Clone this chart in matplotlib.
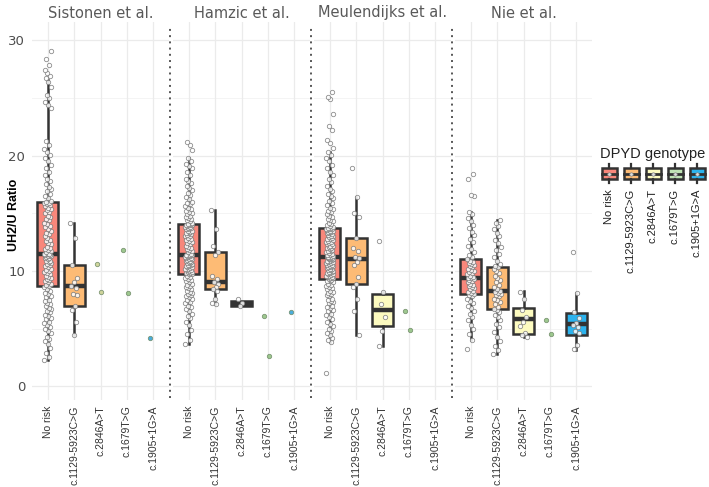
import numpy as np
import matplotlib.pyplot as plt
from matplotlib.patches import Rectangle

studies = ["Sistonen et al.", "Hamzic et al.", "Meulendijks et al.", "Nie et al."]
genotypes = ["No risk", "c.1129-5923C>G", "c.2846A>T", "c.1679T>G", "c.1905+1G>A"]
box_colors = ["#F8877B", "#FDBB75", "#FDFBC0", "#BFE3B4", "#2CB3EE"]
dot_colors = ["#FFFFFF", "#FFFFFF", "#C9CF8C", "#8DBF7C", "#2A9FD6"]

# box statistics (None = no box drawn)
q1 = [[8.7, 6.95, None, None, None],
      [9.7, 8.4, 6.96, None, None],
      [9.3, 8.87, 5.26, None, None],
      [8.0, 6.68, 4.51, None, 4.48]]
med = [[11.5, 8.73, None, None, None],
       [11.35, 9.0, 7.17, None, None],
       [11.24, 11.0, 6.6, None, None],
       [9.4, 8.24, 5.81, None, 5.38]]
q3 = [[16.0, 10.5, None, None, None],
      [14.1, 11.6, 7.37, None, None],
      [13.7, 12.86, 8.0, None, None],
      [11.0, 10.35, 6.74, None, 6.39]]
whislo = [[2.3, 4.4, None, None, None],
          [3.7, 7.1, 6.96, None, None],
          [3.8, 4.4, 3.5, None, None],
          [4.0, 2.75, 4.3, None, 3.12]]
whishi = [[26.6, 14.2, None, None, None],
          [19.8, 15.3, 7.37, None, None],
          [20.3, 16.4, 8.2, None, None],
          [15.1, 14.45, 8.27, None, 8.1]]

# individual ratios (estimated from the jittered points)
sis_norisk = [2.3, 2.5, 2.9, 3.3, 3.7, 3.9, 4.1, 4.3, 4.6, 4.8, 5.0, 5.1, 5.3, 5.5,
              5.6, 5.8, 5.9, 6.1, 6.2, 6.4, 6.5, 6.7, 6.8, 7.0, 7.1, 7.2, 7.4, 7.5,
              7.7, 7.8, 8.0, 8.1, 8.3, 8.4, 8.6,
              8.7, 8.8, 8.9, 9.0, 9.1, 9.2, 9.3, 9.4, 9.5, 9.6, 9.7, 9.8, 9.9, 10.0,
              10.1, 10.2, 10.3, 10.4, 10.5, 10.6, 10.7, 10.8, 10.9, 10.9, 11.0, 11.1,
              11.1, 11.2, 11.3, 11.3, 11.4, 11.4, 11.5, 11.5, 11.5,
              11.6, 11.7, 11.8, 11.9, 12.0, 12.1, 12.3, 12.4, 12.6, 12.7, 12.9, 13.0,
              13.2, 13.3, 13.5, 13.6, 13.8, 13.9, 14.1, 14.2, 14.4, 14.5, 14.7, 14.8,
              15.0, 15.1, 15.3, 15.4, 15.5, 15.6, 15.7, 15.8, 15.9, 15.9, 16.0,
              16.1, 16.3, 16.5, 16.7, 16.9, 17.1, 17.3, 17.5, 17.8, 18.0, 18.3, 18.6,
              18.9, 19.2, 19.5, 19.8, 20.1, 20.3, 20.6, 20.9, 21.3, 24.1, 24.4, 24.7,
              25.0, 25.3, 26.0, 26.4, 26.7, 26.9, 27.2, 27.4, 27.9, 28.4, 29.1]
sis_c1129 = [14.2, 12.9, 10.5, 9.4, 9.0, 8.7, 8.5, 8.0, 7.9, 7.0, 6.6, 5.6, 4.4]
sis_c2846 = [10.6, 8.2]
sis_c1679 = [11.8, 8.1]
sis_c1905 = [4.2]

ham_norisk = [3.7, 4.0, 4.5, 4.9, 5.3, 5.6, 5.9, 6.1, 6.3, 6.5, 6.7, 6.9, 7.0, 7.2,
              7.3, 7.5, 7.6, 7.7, 7.8, 7.9, 8.0, 8.1, 8.2, 8.3, 8.4, 8.5, 8.6, 8.7,
              8.8, 8.9, 9.0, 9.1, 9.2, 9.3, 9.4, 9.5, 9.6,
              9.7, 9.75, 9.8, 9.85, 9.9, 9.95, 10.0, 10.05, 10.1, 10.15, 10.2, 10.25,
              10.3, 10.35, 10.4, 10.45, 10.5, 10.55, 10.6, 10.65, 10.7, 10.75, 10.8,
              10.85, 10.9, 10.95, 11.0, 11.05, 11.1, 11.15, 11.2, 11.25, 11.3, 11.3,
              11.35, 11.35,
              11.4, 11.5, 11.6, 11.7, 11.8, 11.9, 12.0, 12.1, 12.2, 12.3, 12.4, 12.5,
              12.6, 12.7, 12.8, 12.9, 13.0, 13.05, 13.1, 13.2, 13.25, 13.3, 13.4,
              13.45, 13.5, 13.6, 13.65, 13.7, 13.75, 13.8, 13.85, 13.9, 13.95, 14.0,
              14.0, 14.05, 14.1,
              14.2, 14.3, 14.4, 14.5, 14.6, 14.7, 14.8, 14.9, 15.0, 15.1, 15.2, 15.4,
              15.5, 15.6, 15.8, 15.9, 16.0, 16.2, 16.4, 16.6, 16.8, 17.0, 17.2, 17.4,
              17.6, 17.8, 18.0, 18.3, 18.6, 18.9, 19.1, 19.3, 19.5, 19.8, 20.5, 20.9,
              21.2]
ham_c1129 = [15.3, 13.6, 12.2, 11.6, 11.4, 9.6, 9.3, 9.0, 8.9, 8.6, 8.4, 8.3, 7.6,
             7.2, 7.1]
ham_c2846 = [7.6, 7.2, 7.0]
ham_c1679 = [6.1, 2.6]
ham_c1905 = [6.4]

meu_norisk = [1.1, 3.8, 4.0, 4.2, 4.4, 4.6, 4.8, 5.0, 5.2, 5.4, 5.6, 5.8, 6.0, 6.2,
              6.3, 6.5, 6.6, 6.8, 6.9, 7.0, 7.2, 7.3, 7.4, 7.5, 7.6, 7.8, 7.9, 8.0,
              8.1, 8.2, 8.3, 8.4, 8.5, 8.6, 8.7, 8.8, 8.9, 9.0, 9.1, 9.1, 9.2, 9.3,
              9.35, 9.4, 9.45, 9.5, 9.55, 9.6, 9.65, 9.7, 9.75, 9.8, 9.85, 9.9, 9.95,
              10.0, 10.05, 10.1, 10.15, 10.2, 10.25, 10.3, 10.35, 10.4, 10.45, 10.5,
              10.55, 10.6, 10.65, 10.7, 10.75, 10.8, 10.85, 10.9, 10.95, 11.0, 11.0,
              11.05, 11.1, 11.1, 11.15, 11.2, 11.2, 11.24,
              11.3, 11.35, 11.4, 11.5, 11.55, 11.6, 11.7, 11.75, 11.8, 11.9, 11.95,
              12.0, 12.1, 12.15, 12.2, 12.3, 12.35, 12.4, 12.5, 12.55, 12.6, 12.7,
              12.75, 12.8, 12.9, 12.95, 13.0, 13.05, 13.1, 13.2, 13.25, 13.3, 13.35,
              13.4, 13.45, 13.5, 13.55, 13.6, 13.6, 13.65, 13.7, 13.7,
              13.8, 13.9, 14.0, 14.1, 14.2, 14.3, 14.4, 14.5, 14.7, 14.8, 14.9, 15.1,
              15.2, 15.4, 15.5, 15.7, 15.9, 16.1, 16.3, 16.5, 16.7, 16.9, 17.1, 17.4,
              17.7, 18.0, 18.3, 18.6, 18.9, 19.2, 19.5, 19.8, 20.1, 20.3, 20.7, 21.1,
              21.4, 22.2, 22.6, 23.6, 24.9, 25.1, 25.5]
meu_c1129 = [18.9, 16.4, 15.0, 14.7, 12.9, 12.0, 11.7, 11.2, 11.1, 10.8, 10.5, 9.5,
             8.9, 8.6, 7.6, 6.5, 4.4]
meu_c2846 = [12.6, 8.2, 7.1, 6.0, 4.8, 3.5]
meu_c1679 = [6.5, 4.9]
meu_c1905 = []

nie_norisk = [3.2, 4.0, 4.5, 5.0, 5.3, 5.7, 6.0, 6.3, 6.5, 6.8, 7.0, 7.2, 7.4, 7.6,
              7.8, 7.9, 8.0, 8.1, 8.2, 8.3, 8.4, 8.5, 8.6, 8.7, 8.8, 8.9, 9.0, 9.1,
              9.2, 9.3, 9.4, 9.4, 9.5, 9.6, 9.7, 9.8, 9.9, 10.0, 10.1, 10.2, 10.3,
              10.4, 10.5, 10.6, 10.7, 10.8, 10.9, 11.0, 11.2, 11.4, 11.6, 11.9, 12.2,
              12.5, 12.8, 13.1, 13.4, 13.7, 14.0, 14.3, 14.6, 14.9, 15.1, 16.5, 16.6,
              18.0, 18.4]
nie_c1129 = [2.75, 3.1, 3.5, 3.9, 4.3, 4.7, 5.1, 5.4, 5.7, 6.0, 6.2, 6.4, 6.6, 6.7,
             6.9, 7.1, 7.3, 7.5, 7.6, 7.8, 7.9, 8.0, 8.1, 8.2, 8.3, 8.4, 8.6, 8.8,
             9.0, 9.2, 9.4, 9.6, 9.8, 10.0, 10.2, 10.3, 10.4, 10.6, 10.9, 11.2, 11.5,
             11.8, 12.1, 12.4, 12.7, 13.0, 13.3, 13.6, 13.9, 14.2, 14.45]
nie_c2846 = [8.2, 7.6, 6.6, 6.0, 5.6, 5.2, 4.6, 4.4, 4.3]
nie_c1679 = [5.7, 4.5]
nie_c1905 = [11.6, 8.1, 6.4, 5.9, 5.5, 5.3, 5.1, 4.8, 4.6, 3.6, 3.2]

points = [[sis_norisk, sis_c1129, sis_c2846, sis_c1679, sis_c1905],
          [ham_norisk, ham_c1129, ham_c2846, ham_c1679, ham_c1905],
          [meu_norisk, meu_c1129, meu_c2846, meu_c1679, meu_c1905],
          [nie_norisk, nie_c1129, nie_c2846, nie_c1679, nie_c1905]]

W, H = 709, 487
plt.rcParams['font.family'] = ['DejaVu Sans']
fig = plt.figure(figsize=(W / 100, H / 100), dpi=100)

ax_bottom = (H - 400) / H
ax_height = (400 - 22) / H
lefts = [32, 173, 314, 455]
pw = 137
positions = np.arange(1, 6)

for s, study in enumerate(studies):
    ax = fig.add_axes([lefts[s] / W, ax_bottom, pw / W, ax_height])
    ax.set_xlim(0.4, 5.6)
    ax.set_ylim(-1.2, 31.6)
    ax.set_facecolor('white')
    for sp in ax.spines.values():
        sp.set_visible(False)
    # grid
    for y in [0, 10, 20, 30]:
        ax.axhline(y, color='#EBEBEB', lw=0.9, zorder=0)
    for y in [5, 15, 25]:
        ax.axhline(y, color='#F4F4F4', lw=0.7, zorder=0)
    for x in positions:
        ax.axvline(x, color='#EBEBEB', lw=0.9, zorder=0)

    # boxes
    stats, pos, cols = [], [], []
    for g in range(5):
        if q1[s][g] is None:
            continue
        stats.append(dict(med=med[s][g], q1=q1[s][g], q3=q3[s][g],
                          whislo=whislo[s][g], whishi=whishi[s][g], fliers=[]))
        pos.append(positions[g])
        cols.append(box_colors[g])
    bp = ax.bxp(stats, positions=pos, widths=0.8, showcaps=False,
                showfliers=False, patch_artist=True,
                boxprops=dict(edgecolor='#333333', linewidth=1.8),
                whiskerprops=dict(color='#333333', linewidth=1.8),
                medianprops=dict(color='#333333', linewidth=3.2))
    for patch, c in zip(bp['boxes'], cols):
        patch.set_facecolor(c)
    for artist in bp['boxes'] + bp['whiskers'] + bp['medians']:
        artist.set_zorder(2)

    # jittered points
    for g in range(5):
        vals = np.array(points[s][g], dtype=float)
        if len(vals) == 0:
            continue
        idx = np.arange(len(vals))
        jit = ((idx * 0.618034) % 1.0 - 0.5) * 0.28
        has_box = q1[s][g] is not None
        fc = '#FFFFFF' if has_box else dot_colors[g]
        ax.scatter(positions[g] + jit, vals, s=10, facecolor=fc,
                   edgecolor='#7A7A7A' if has_box else '#6E8A66',
                   linewidths=0.6, alpha=0.85, zorder=3)

    ax.set_xticks(positions)
    ax.set_xticklabels(genotypes, rotation=90, fontsize=7.5, color='#333333',
                       family='Liberation Sans')
    ax.tick_params(axis='both', length=0, pad=4)
    if s == 0:
        ax.set_yticks([0, 10, 20, 30])
        ax.set_yticklabels(['0', '10', '20', '30'], fontsize=9.5, color='#4D4D4D')
        ax.tick_params(axis='y', pad=5)
    else:
        ax.set_yticks([])
        ax.plot([0.3, 0.3], [-1.0, 31.3], ls=(0, (1, 2.2)), color='#555555',
                lw=1.4, clip_on=False, zorder=1)
    fig.text((lefts[s] + pw / 2) / W, 1 - 13 / H, study, fontsize=10.5,
             color='#595959', ha='center', va='center')

fig.text(14 / W, 1 - 215 / H, 'UH2/U Ratio', fontsize=9, fontweight='bold',
         rotation=90, ha='center', va='center', family='Liberation Sans')

# legend drawn in pixel coordinates
lg = fig.add_axes([0, 0, 1, 1], facecolor='none')
lg.set_xlim(0, W)
lg.set_ylim(H, 0)
lg.axis('off')
lg.text(653, 154, 'DPYD genotype', fontsize=10.5, color='#222222',
        ha='center', va='center', family='Liberation Sans')
key_x = [609, 631, 653, 675, 697]
for kx, c, lab in zip(key_x, box_colors, genotypes):
    lg.add_patch(Rectangle((kx - 7.5, 168), 15, 11, facecolor=c,
                           edgecolor='#333333', lw=1.8))
    lg.plot([kx - 7.5, kx + 7.5], [173.5, 173.5], color='#333333', lw=2)
    lg.plot([kx, kx], [164, 168], color='#333333', lw=1.6)
    lg.plot([kx, kx], [179, 183], color='#333333', lw=1.6)
    lg.plot([kx], [173.5], marker='o', ms=2.5, mfc='#DDDDDD', mec='#888888',
            mew=0.5)
    lg.text(kx, 189, lab, rotation=90, fontsize=8, color='#222222',
            ha='center', va='top', family='Liberation Sans')

fig.savefig('out.png', dpi=100)
